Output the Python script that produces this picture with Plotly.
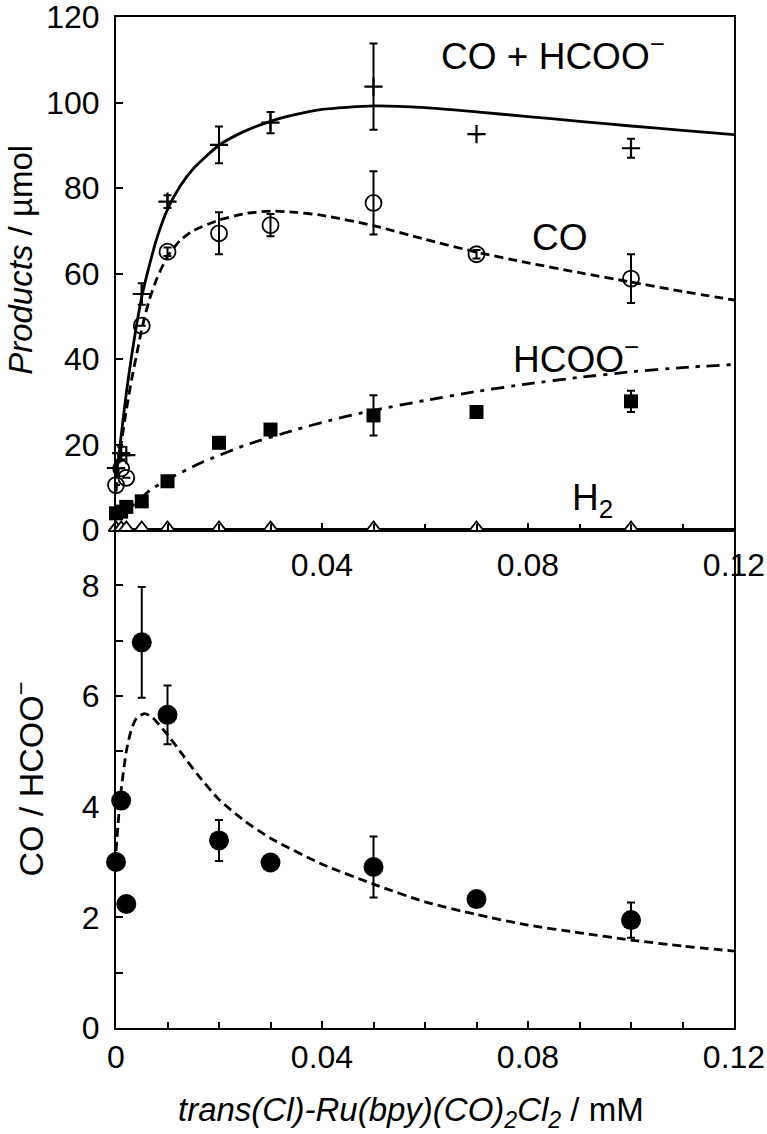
import plotly.graph_objects as go

# ---------------- data ----------------
conc = [0, 0.001, 0.002, 0.005, 0.01, 0.02, 0.03, 0.05, 0.07, 0.1]
total = [14.5, 18.0, 17.5, 55.2, 76.8, 90.1, 95.3, 103.7, 92.6, 89.3]
total_err = [0, 1.5, 0, 2.5, 1.5, 4.3, 2.5, 10.1, 0, 2.2]
co = [10.5, 14.4, 12.2, 47.8, 65.1, 69.4, 71.3, 76.5, 64.5, 58.8]
co_err = [0, 0, 0, 0, 1.0, 4.9, 2.6, 7.4, 1.0, 5.7]
hcoo = [3.9, 4.3, 5.4, 6.7, 11.4, 20.4, 23.5, 26.8, 27.6, 30.1]
hcoo_err = [0, 0, 0, 0, 0, 0, 0, 4.7, 0, 2.5]
h2 = [0.5, 0.5, 0.5, 0.5, 0.5, 0.5, 0.5, 0.5, 0.5, 0.5]
ratio = [3.0, 4.11, 2.24, 6.97, 5.66, 3.39, 2.99, 2.91, 2.33, 1.95]
ratio_err = [0, 0, 0, 1.0, 0.53, 0.37, 0, 0.55, 0, 0.32]

fit_x = [0, 0.001, 0.002, 0.003, 0.004, 0.005, 0.0065, 0.008, 0.01, 0.0125, 0.015,
         0.02, 0.025, 0.03, 0.035, 0.04, 0.05, 0.06, 0.07, 0.08, 0.09, 0.1, 0.11, 0.12]
fit_total = [12, 22, 32, 40.5, 48, 54.5, 62, 68.5, 75, 80.5, 84.5,
             90, 93.3, 95.6, 97.2, 98.4, 99.2, 98.8, 97.8, 96.7, 95.6, 94.5, 93.5, 92.5]
fit_co = [9, 20, 28, 35, 41, 47, 54, 59, 64, 67.8, 70,
          72.5, 74, 74.6, 74.3, 73.6, 71.2, 68, 65, 62.5, 60.2, 58, 55.8, 53.8]
fit_hcoo_x = [0, 0.002, 0.004, 0.0066, 0.01, 0.0163, 0.025, 0.035, 0.0414, 0.05,
              0.06, 0.07, 0.08, 0.09, 0.1, 0.11, 0.12]
fit_hcoo = [2.5, 4.5, 6.5, 9.3, 11.8, 15.6, 19.8, 23.5, 25.6, 28,
            30.3, 32.4, 34.2, 35.7, 37, 38, 38.7]
fit_ratio_x = [0, 0.0005, 0.001, 0.002, 0.003, 0.004, 0.0055, 0.007, 0.01, 0.013, 0.016,
               0.02, 0.025, 0.03, 0.04, 0.05, 0.06, 0.07, 0.08, 0.09, 0.1, 0.11, 0.12]
fit_ratio = [3.2, 3.8, 4.3, 5.0, 5.4, 5.6, 5.68, 5.62, 5.3, 4.93, 4.56,
             4.13, 3.74, 3.43, 2.96, 2.6, 2.28, 2.05, 1.86, 1.72, 1.59, 1.48, 1.39]

top_ticks = [0.04, 0.08, 0.12]
top_ticktext = ["0.04", "0.08", "0.12"]
bottom_ticks = [0, 0.04, 0.08, 0.12]
bottom_ticktext = ["0", "0.04", "0.08", "0.12"]

FONT = "Arial, Liberation Sans, sans-serif"
BLK = "black"
TICK_SIZE = 32
ANN_SIZE = 37

fig = go.Figure()

def err(vals):
    return dict(type="data", array=vals, visible=True, color=BLK, thickness=2, width=4)

# ----- top panel curves -----
fig.add_trace(go.Scatter(x=fit_x, y=fit_total, mode="lines", xaxis="x2", yaxis="y2",
                         line=dict(color=BLK, width=2.8, shape="spline", smoothing=0.6)))
fig.add_trace(go.Scatter(x=fit_x, y=fit_co, mode="lines", xaxis="x2", yaxis="y2",
                         line=dict(color=BLK, width=2.8, dash="9px,5px", shape="spline", smoothing=0.6)))
fig.add_trace(go.Scatter(x=fit_hcoo_x, y=fit_hcoo, mode="lines", xaxis="x2", yaxis="y2",
                         line=dict(color=BLK, width=2.8, dash="13px,7px,4px,7px", shape="spline", smoothing=0.6)))

# ----- top panel markers -----
fig.add_trace(go.Scatter(x=conc, y=h2, mode="markers", xaxis="x2", yaxis="y2", cliponaxis=False,
                         marker=dict(symbol="triangle-up", size=13, color="white",
                                     line=dict(width=1.8, color=BLK))))
fig.add_trace(go.Scatter(x=conc, y=hcoo, mode="markers", xaxis="x2", yaxis="y2", cliponaxis=False,
                         error_y=err(hcoo_err),
                         marker=dict(symbol="square", size=14, color=BLK)))
fig.add_trace(go.Scatter(x=conc, y=co, mode="markers", xaxis="x2", yaxis="y2", cliponaxis=False,
                         error_y=err(co_err),
                         marker=dict(symbol="circle-open", size=16, color=BLK, line=dict(width=1.8))))
fig.add_trace(go.Scatter(x=conc, y=total, mode="markers", xaxis="x2", yaxis="y2", cliponaxis=False,
                         error_y=err(total_err),
                         marker=dict(symbol="cross-thin-open", size=13, color=BLK, line=dict(width=2.2, color=BLK))))

# ----- bottom panel -----
fig.add_trace(go.Scatter(x=fit_ratio_x, y=fit_ratio, mode="lines", xaxis="x", yaxis="y",
                         line=dict(color=BLK, width=2.8, dash="9px,5px", shape="spline", smoothing=0.6)))
fig.add_trace(go.Scatter(x=conc, y=ratio, mode="markers", xaxis="x", yaxis="y", cliponaxis=False,
                         error_y=err(ratio_err),
                         marker=dict(symbol="circle", size=20, color=BLK)))

# ----- annotations -----
ann_font = dict(family=FONT, size=ANN_SIZE, color=BLK)
annotations = [
    dict(x=0.0848, y=111.5, xref="x2", yref="y2", text="CO + HCOO<sup>−</sup>", showarrow=False, font=ann_font),
    dict(x=0.0863, y=68.5, xref="x2", yref="y2", text="CO", showarrow=False, font=ann_font),
    dict(x=0.0893, y=40.5, xref="x2", yref="y2", text="HCOO<sup>−</sup>", showarrow=False, font=ann_font),
    dict(x=0.0925, y=7.0, xref="x2", yref="y2", text="H<sub>2</sub>", showarrow=False, font=ann_font),
    # axis titles placed as text
    dict(x=-0.155, y=0.760, xref="paper", yref="paper", text="<i>Products</i> / µmol",
         textangle=-90, showarrow=False, xanchor="center", yanchor="middle",
         font=dict(family=FONT, size=33, color=BLK)),
    dict(x=0.478, y=-0.083, xref="paper", yref="paper",
         text="<i>trans(Cl)-Ru(bpy)(CO)<sub>2</sub>Cl<sub>2</sub></i> / mM",
         showarrow=False, xanchor="center", yanchor="middle",
         font=dict(family=FONT, size=33, color=BLK)),
]

split = 498 / 1011

axis_common = dict(showline=True, linecolor=BLK, linewidth=2, mirror=True, showgrid=False,
                   zeroline=False, ticks="inside", tickcolor=BLK, tickwidth=2, automargin=False,
                   ticklabeloverflow="allow",
                   tickfont=dict(family=FONT, size=TICK_SIZE, color=BLK))

fig.update_layout(
    width=767, height=1134,
    margin=dict(l=116, r=33, t=17, b=106),
    paper_bgcolor="white", plot_bgcolor="white",
    showlegend=False,
    font=dict(family=FONT, size=TICK_SIZE, color=BLK),
    annotations=annotations,
    xaxis=dict(axis_common, domain=[0, 1], anchor="y", range=[0, 0.12],
               tickvals=bottom_ticks, ticktext=bottom_ticktext, ticklen=7,
               minor=dict(dtick=0.01, tick0=0, ticks="inside", ticklen=6, tickcolor=BLK, tickwidth=2)),
    yaxis=dict(axis_common, domain=[0, split], anchor="x", range=[0, 9],
               tickvals=[0, 2, 4, 6, 8], ticklen=7, ticklabelstandoff=8,
               minor=dict(dtick=1, tick0=0, ticks="inside", ticklen=7, tickcolor=BLK, tickwidth=2),
               title=dict(text="CO / HCOO<sup>−</sup>", font=dict(family=FONT, size=34, color=BLK), standoff=28)),
    xaxis2=dict(axis_common, domain=[0, 1], anchor="y2", range=[0, 0.12],
                tickvals=top_ticks, ticktext=top_ticktext, ticklen=7, ticklabelstandoff=6,
                minor=dict(dtick=0.01, tick0=0, ticks="inside", ticklen=6, tickcolor=BLK, tickwidth=2)),
    yaxis2=dict(axis_common, domain=[split, 1], anchor="x2", range=[0, 120],
                tickvals=[0, 20, 40, 60, 80, 100, 120], ticklen=7, ticklabelstandoff=8),
)

fig.write_html("out.html", config={"displayModeBar": False},
               post_script="document.body.style.margin='0px';document.body.style.overflow='hidden';")
